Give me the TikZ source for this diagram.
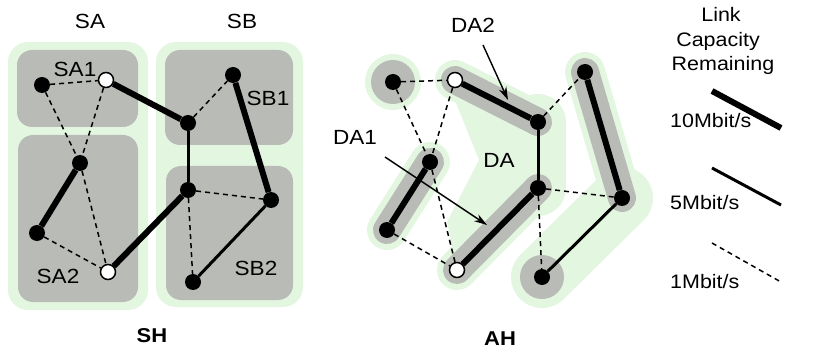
\documentclass[tikz,border=0pt]{standalone}
\usepackage{fontspec}
\setmainfont{Liberation Sans}[FakeStretch=1.1]
\usetikzlibrary{arrows.meta,backgrounds}
\definecolor{hgray}{HTML}{B9BBB6}
\definecolor{hgreen}{HTML}{E3F7E0}
\begin{document}
\begin{tikzpicture}[x=1pt,y=-1pt,
  bn/.style={circle,fill=black,minimum size=16pt,inner sep=0pt},
  wn/.style={circle,fill=white,draw=black,line width=1.5pt,minimum size=15pt,inner sep=0pt},
  e10/.style={line width=6pt},
  e5/.style={line width=3pt},
  e1/.style={line width=1.5pt,dash pattern=on 5pt off 4pt},
  lbl/.style={font=\fontsize{20.5}{24}\selectfont,inner sep=0pt,anchor=base},
  llbl/.style={font=\fontsize{19.5}{24}\selectfont,inner sep=0pt,anchor=base},
  blbl/.style={font=\fontsize{20}{24}\selectfont\bfseries,inner sep=0pt,anchor=base},
  gbox/.style={fill=hgreen,rounded corners=20pt},
  sbox/.style={fill=hgray,rounded corners=15pt},
  halo/.style={draw=hgreen,line width=40pt,line cap=round},
  band/.style={draw=hgray,line width=28pt,line cap=round},
  arr/.style={line width=1.4pt,-{Stealth[length=13pt,width=8pt]}},
]
\useasboundingbox (0,0) rectangle (818,355);

% ---------- left panel nodes
\node[bn] (a1) at (42,85) {};
\node[wn] (a2) at (106,80) {};
\node[bn] (a3) at (80,163) {};
\node[bn] (a4) at (37,233) {};
\node[wn] (a5) at (108,272) {};
\node[bn] (b1) at (188,123) {};
\node[bn] (b2) at (233,75) {};
\node[bn] (b3) at (188,190) {};
\node[bn] (b4) at (271,200) {};
\node[bn] (b5) at (193,282) {};

% ---------- middle panel nodes
\node[bn] (c1) at (393,82) {};
\node[wn] (c2) at (455,80) {};
\node[bn] (c3) at (430,162) {};
\node[bn] (c4) at (387,230) {};
\node[wn] (c5) at (457,270) {};
\node[bn] (c6) at (538,122) {};
\node[bn] (c7) at (538,188) {};
\node[bn] (c8) at (585,72) {};
\node[bn] (c9) at (622,198) {};
\node[bn] (c10) at (542,277) {};

\coordinate (n1) at (447,222);
\coordinate (n2) at (479,160);
\coordinate (n3) at (454,98);

% ---------- backgrounds
\begin{scope}[on background layer]
  \fill[gbox] (8,42) rectangle (148,310);
  \fill[gbox] (156,42) rectangle (303,307);
  \fill[sbox] (17,50) rectangle (138,127);
  \fill[sbox] (18,135) rectangle (138,302);
  \fill[sbox] (165,50) rectangle (293,145);
  \fill[sbox] (166,166) rectangle (293,300);

  % AH green regions
  \fill[hgreen] (c1.center) circle[radius=28pt];
  \fill[hgreen] (c2.center) -- (c6.center) -- (c7.center) -- (c5.center) -- (n1) -- (n2) -- (n3) -- cycle;
  \draw[halo] (c2.center) -- (c6.center);
  \draw[halo,line width=56pt] (c6.center) -- (c7.center);
  \draw[halo] (c5.center) -- (c7.center);
  \draw[halo] (c3.center) -- (c4.center);
  \draw[halo] (c8.center) -- (c9.center);
  \draw[halo,line width=62pt] (c9.center) -- (c10.center);
  \fill[hgreen] (c10.center) circle[radius=30pt];
  % AH gray regions
  \fill[hgray] (c1.center) circle[radius=22pt];
  \fill[hgray] (c10.center) circle[radius=22pt];
  \draw[band] (c2.center) -- (c6.center);
  \draw[band] (c5.center) -- (c7.center);
  \draw[band] (c3.center) -- (c4.center);
  \draw[band] (c8.center) -- (c9.center);
\end{scope}

% ---------- left panel edges
\draw[e1] (a1) -- (a2);
\draw[e1] (a1) -- (a3);
\draw[e1] (a2) -- (a3);
\draw[e10] (a2) -- (b1);
\draw[e10] (a3) -- (a4);
\draw[e1] (a3) -- (a5);
\draw[e1] (a4) -- (a5);
\draw[e10] (a5) -- (b3);
\draw[e1] (b1) -- (b2);
\draw[e5] (b1) -- (b3);
\draw[e10] (b2) -- (b4);
\draw[e1] (b3) -- (b4);
\draw[e1] (b3) -- (b5);
\draw[e5] (b4) -- (b5);

% ---------- middle panel edges
\draw[e1] (c1) -- (c2);
\draw[e1] (c1) -- (c3);
\draw[e1] (c2) -- (c3);
\draw[e10] (c2) -- (c6);
\draw[e10] (c3) -- (c4);
\draw[e1] (c3) -- (c5);
\draw[e1] (c4) -- (c5);
\draw[e10] (c5) -- (c7);
\draw[e1] (c6) -- (c8);
\draw[e5] (c6) -- (c7);
\draw[e10] (c8) -- (c9);
\draw[e1] (c7) -- (c9);
\draw[e1] (c7) -- (c10);
\draw[e5] (c9) -- (c10);

% ---------- labels
\node[lbl] (tSA) at (90,29) {SA};
\node[lbl] (tSB) at (242,29) {SB};
\node[lbl] (tSA1) at (75,77) {SA1};
\node[lbl] (tSB1) at (268,106) {SB1};
\node[lbl] (tSA2) at (58,283) {SA2};
\node[lbl] (tSB2) at (256,275) {SB2};
\node[blbl] (tSH) at (152,342) {SH};
\node[lbl] (tDA2) at (473,33) {DA2};
\node[lbl] (tDA1) at (355,145) {DA1};
\node[lbl] (tDA) at (499,168) {DA};
\node[blbl] (tAH) at (500,345) {AH};

\coordinate (d2s) at (483,45);
\coordinate (d2e) at (508,100);
\coordinate (d1s) at (385,157);
\coordinate (d1e) at (487,225);
\draw[arr] (d2s) -- (d2e);
\draw[arr] (d1s) -- (d1e);

% ---------- legend
\node[llbl] (tL1) at (721,22) {Link};
\node[llbl] (tL2) at (718,47) {Capacity};
\node[llbl] (tL3) at (723,71) {Remaining};
\node[llbl,anchor=base west] (t10) at (670,128) {10Mbit/s};
\node[llbl,anchor=base west] (t5) at (670,210) {5Mbit/s};
\node[llbl,anchor=base west] (t1) at (670,288) {1Mbit/s};
\coordinate (l10a) at (712,91);
\coordinate (l10b) at (781,128);
\coordinate (l5a) at (712,168);
\coordinate (l5b) at (781,205);
\coordinate (l1a) at (712,243);
\coordinate (l1b) at (781,282);
\draw[e10] (l10a) -- (l10b);
\draw[e5] (l5a) -- (l5b);
\draw[e1] (l1a) -- (l1b);
\end{tikzpicture}
\end{document}
